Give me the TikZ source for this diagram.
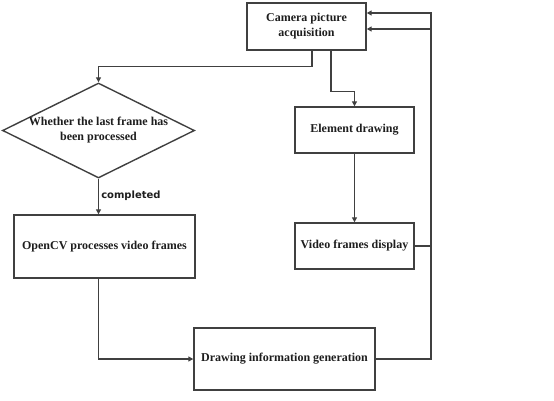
\documentclass[tikz,border=0pt]{standalone}
\usepackage{fontspec}
\setmainfont{Liberation Serif}
\newfontfamily\labfont{DejaVu Sans}
\usetikzlibrary{shapes.geometric,arrows.meta}
\definecolor{linec}{RGB}{64,64,64}
\definecolor{textc}{RGB}{30,30,30}
\begin{document}
\begin{tikzpicture}[x=1pt,y=-1pt,
 box/.style={draw=linec,line width=1.4pt,rectangle,inner sep=0pt,text=textc,
   font=\fontsize{12}{15}\selectfont\bfseries,align=center},
 dbox/.style={box,diamond,aspect=2.02},
 conn/.style={draw=linec,line width=1.5pt},
 arr/.style={conn,-{Triangle[length=5pt,width=5pt]}}]
\useasboundingbox (0,0) rectangle (554,400);
\fill[white] (0,0) rectangle (554,400);
\node[box,minimum width=119pt,minimum height=47pt] (cam) at (306.5,26.5) {Camera picture\\acquisition};
\node[box,minimum width=119pt,minimum height=46pt] (elem) at (354.5,130) {Element drawing};
\node[box,minimum width=119pt,minimum height=46pt] (vid) at (354.5,246) {Video frames display};
\node[dbox,minimum width=192pt,minimum height=95pt] (dia) at (98.5,130.5) {Whether the last frame has\\been processed};
\node[box,minimum width=181pt,minimum height=63pt] (ocv) at (104.5,246.5) {OpenCV processes video frames};
\node[box,minimum width=181pt,minimum height=62pt] (drw) at (284.5,359) {Drawing information generation};
\coordinate (bus1) at (431,13);
\coordinate (bus2) at (431,29);
\draw[arr] ([xshift=5.5pt]cam.south) -- ++(0,16) -| (dia.north);
\draw[arr] ([xshift=24.5pt]cam.south) -- ++(0,41) -| (elem.north);
\draw[arr] (elem.south) -- (vid.north);
\draw[arr] (dia.south) -- node[pos=0.47,right,inner sep=2pt,text=textc,font=\labfont\bfseries\fontsize{10}{12}\selectfont] (lbl) {completed} (dia.south |- ocv.north);
\draw[arr] (dia.south |- ocv.south) |- (drw.west);
\draw[arr] (vid.east) -| (bus1) -- (cam.east |- bus1);
\draw[arr] (drw.east) -| (bus2) -- (cam.east |- bus2);
\end{tikzpicture}
\end{document}
